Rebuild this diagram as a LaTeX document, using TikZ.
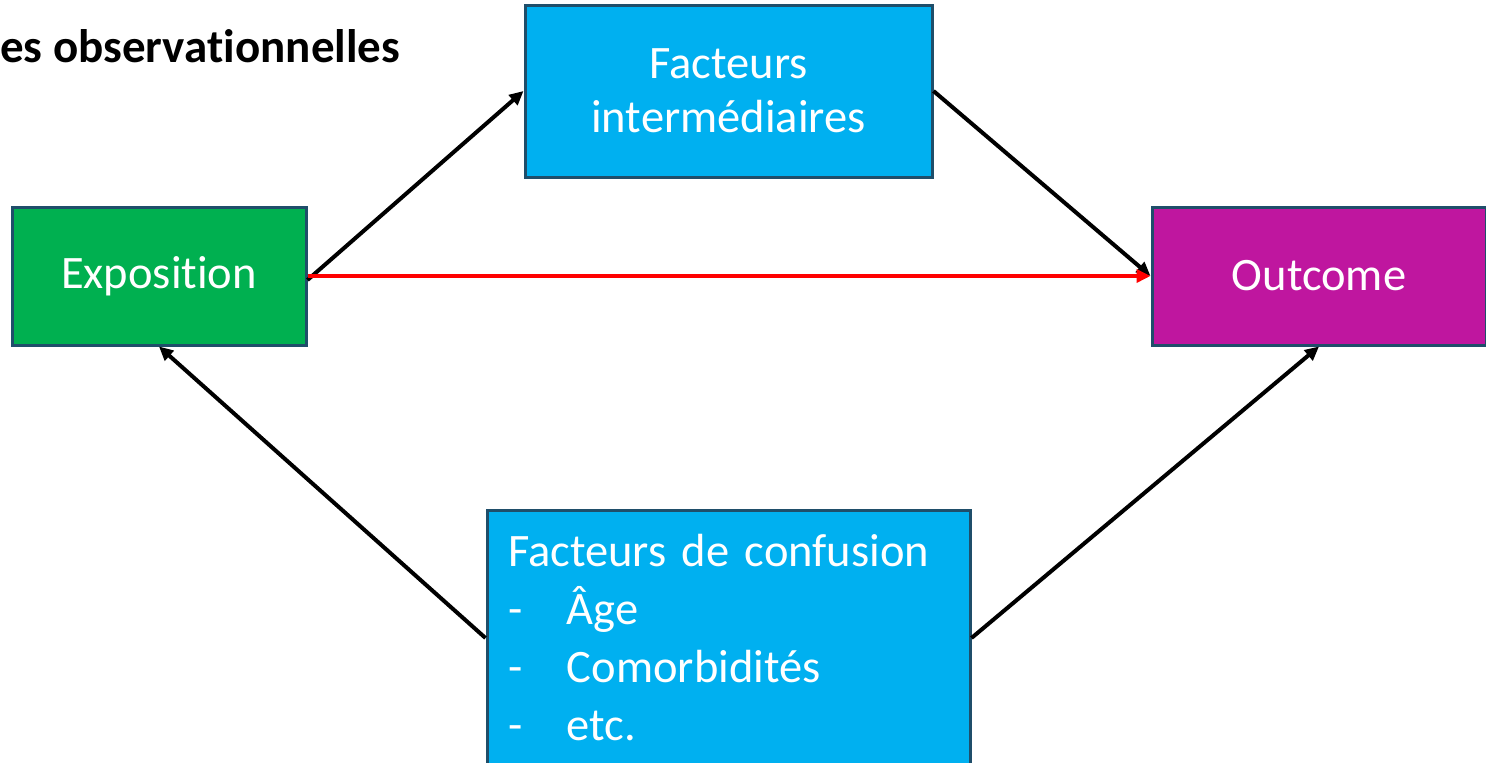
\documentclass[tikz,border=0pt]{standalone}
\usepackage{fontspec}
\setmainfont{Carlito}[Ligatures=CommonOff]
\usetikzlibrary{arrows.meta}
\definecolor{boxblue}{RGB}{0,176,240}
\definecolor{boxgreen}{RGB}{0,176,80}
\definecolor{boxmag}{RGB}{191,22,159}
\definecolor{edge}{RGB}{31,78,106}
\begin{document}
\begin{tikzpicture}[x=1pt,y=-1pt,
  box/.style={draw=edge,line width=3pt,text=white,font=\fontsize{46.5}{54}\selectfont,align=center,inner sep=0pt},
  arr/.style={line width=4pt,-{Triangle[length=14pt,width=13pt]}},
  redarr/.style={arr,red,line width=3.5pt}]
\useasboundingbox (0,0) rectangle (1486,763);
\clip (0,0) rectangle (1486,763);
\node[font=\fontsize{47}{56}\selectfont\bfseries,anchor=base west,inner sep=0pt] (title) at (0,62) {es observationnelles};
\node[box,fill=boxblue,minimum width=407pt,minimum height=172pt] (fi) at (728.5,91) {Facteurs\\intermédiaires};
\node[box,fill=boxgreen,minimum width=294pt,minimum height=138pt] (expo) at (159,276) {Exposition};
\node[box,fill=boxmag,minimum width=334pt,minimum height=138pt] (out) at (1319,276) {Outcome};
\node[box,fill=boxblue,minimum width=483pt,minimum height=256pt,text width=441pt,align=left,font=\fontsize{46.5}{58}\selectfont] (conf) at (728.5,638) {Facteurs de confusion\\\makebox[59pt][l]{-}Âge\\\makebox[59pt][l]{-}Comorbidités\\\makebox[59pt][l]{-}etc.};
\draw[arr] ([yshift=-4pt]expo.east) -- (fi.west);
\draw[arr] (fi.east) -- (out.west);
\draw[redarr] (expo.east) -- (out.west);
\draw[arr] (conf.west) -- (expo.south);
\draw[arr] (conf.east) -- (out.south);
\end{tikzpicture}
\end{document}
